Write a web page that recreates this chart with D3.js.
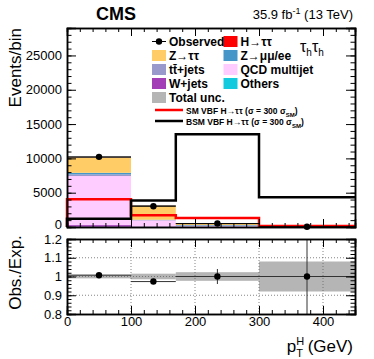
<!DOCTYPE html>
<html>
<head>
<meta charset="utf-8">
<script src="https://cdn.jsdelivr.net/npm/d3@7"></script>
<style>
  body { margin: 0; background: #fff; }
  svg text { font-family: "Liberation Sans", Arial, Helvetica, sans-serif; }
  .axis path { stroke: #000; stroke-width: 1.5; }
  .axis line { stroke: #000; stroke-width: 1; }
  .axis text { font-size: 13px; fill: #000; }
</style>
</head>
<body>
<svg id="chart" width="374" height="359"></svg>
<script>
// bins in pT^H (GeV)
const binEdges = [0, 100, 170, 300, 450]

// stacked backgrounds, bottom to top
const others = [30, 20, 20, 2]
const wjets = [250, 40, 30, 3]
const qcd = [7150, 900, 100, 5]
const ttbar = [250, 60, 80, 5]
const zmumu = [220, 40, 60, 3]
const ztautau = [2230, 2030, 200, 20]
const htautau = [20, 10, 10, 2]

const observed = [10220, 3020, 500, 40]
const smVbf = [4050, 1700, 1300, 150]
const bsmVbf = [1200, 3850, 13500, 4350]

// ratio panel
const ratio = [1.007, 0.973, 1.0, 1.0]
const ratioErr = [0.004, 0.006, 0.04, 0.3]
const totalUnc = [0.01, 0.015, 0.023, 0.08]

const upperTicks = [0, 5000, 10000, 15000, 20000, 25000]
const ratioTicks = [0.8, 0.9, 1, 1.1, 1.2]
const xTicks = [0, 100, 200, 300, 400]

const processes = [
  { name: 'Others', values: others, color: '#12cadd' },
  { name: 'W+jets', values: wjets, color: '#a33eb6' },
  { name: 'QCD multijet', values: qcd, color: '#ffccff' },
  { name: 'tt+jets', values: ttbar, color: '#9999cc' },
  { name: 'Z→μμ/ee', values: zmumu, color: '#4496c8' },
  { name: 'Z→ττ', values: ztautau, color: '#ffcc66' },
  { name: 'H→ττ', values: htautau, color: '#ff0000' }
]

const svg = d3.select('#chart')
const left = 67, right = 355
const upTop = 28, upBottom = 227
const loTop = 239, loBottom = 314

const x = d3.scaleLinear().domain([0, 450]).range([left, right])
const y = d3.scaleLinear().domain([0, 29000]).range([upBottom, upTop])
const yr = d3.scaleLinear().domain([0.8, 1.2]).range([loBottom, loTop])

const bins = d3.range(observed.length).map(i => ({ lo: binEdges[i], hi: binEdges[i + 1], i }))

// stacks
const stackData = bins.map(b => {
  const row = { i: b.i }
  processes.forEach(p => { row[p.name] = p.values[b.i] })
  return row
})
const series = d3.stack().keys(processes.map(p => p.name))(stackData)

const upper = svg.append('g')
series.forEach((s, k) => {
  upper.selectAll(null)
    .data(s)
    .enter().append('rect')
    .attr('x', d => x(binEdges[d.data.i]))
    .attr('width', d => x(binEdges[d.data.i + 1]) - x(binEdges[d.data.i]))
    .attr('y', d => y(d[1]))
    .attr('height', d => Math.max(0, y(d[0]) - y(d[1])))
    .attr('fill', processes[k].color)
})

// thin outline at stack top
const totals = bins.map(b => d3.sum(processes, p => p.values[b.i]))
upper.selectAll(null)
  .data(bins)
  .enter().append('line')
  .attr('x1', d => x(d.lo)).attr('x2', d => x(d.hi))
  .attr('y1', d => y(totals[d.i])).attr('y2', d => y(totals[d.i]))
  .attr('stroke', '#333').attr('stroke-width', 0.8)

// signal step lines
function stepPath (vals) {
  const pts = []
  bins.forEach(b => {
    pts.push([x(b.lo), y(vals[b.i])])
    pts.push([x(b.hi), y(vals[b.i])])
  })
  pts.unshift([x(0), y(0)])
  return d3.line()(pts)
}
upper.append('path').attr('d', stepPath(smVbf))
  .attr('fill', 'none').attr('stroke', '#ff0000').attr('stroke-width', 2.5)
upper.append('path').attr('d', stepPath(bsmVbf))
  .attr('fill', 'none').attr('stroke', '#000').attr('stroke-width', 2.5)

// observed points
const obs = upper.selectAll('.obs').data(bins).enter().append('g')
obs.append('line')
  .attr('x1', d => x(d.lo)).attr('x2', d => x(d.hi))
  .attr('y1', d => y(observed[d.i])).attr('y2', d => y(observed[d.i]))
  .attr('stroke', '#000').attr('stroke-width', 1)
obs.append('circle')
  .attr('cx', d => x((d.lo + d.hi) / 2))
  .attr('cy', d => y(observed[d.i]))
  .attr('r', 3.2).attr('fill', '#000')

// axes with ticks pointing into the frame
function inward (axisFn, scale, ticks, size, labels) {
  const a = axisFn(scale).tickValues(ticks).tickSize(-size)
  a.tickFormat(labels ? d3.format('') : '')
  return a
}
const upMinorY = d3.range(0, 29001, 1000)
const xMinor = d3.range(0, 451, 20)

svg.append('g').attr('class', 'axis').attr('transform', `translate(${left},0)`)
  .call(inward(d3.axisLeft, y, upperTicks, 9, true).tickPadding(5))
  .selectAll('text').filter(d => d === 0).attr('dy', '0.15em')
svg.append('g').attr('class', 'axis').attr('transform', `translate(${left},0)`)
  .call(inward(d3.axisLeft, y, upMinorY, 4.5, false))
svg.append('g').attr('class', 'axis').attr('transform', `translate(${right},0)`)
  .call(inward(d3.axisRight, y, upperTicks, 9, false))
svg.append('g').attr('class', 'axis').attr('transform', `translate(${right},0)`)
  .call(inward(d3.axisRight, y, upMinorY, 4.5, false))
svg.append('g').attr('class', 'axis').attr('transform', `translate(0,${upTop})`)
  .call(inward(d3.axisTop, x, xTicks, 8, false))
svg.append('g').attr('class', 'axis').attr('transform', `translate(0,${upTop})`)
  .call(inward(d3.axisTop, x, xMinor, 4, false))
svg.append('g').attr('class', 'axis').attr('transform', `translate(0,${upBottom})`)
  .call(inward(d3.axisBottom, x, xTicks, 8, false))
svg.append('g').attr('class', 'axis').attr('transform', `translate(0,${upBottom})`)
  .call(inward(d3.axisBottom, x, xMinor, 4, false))

// ratio panel
const lower = svg.append('g')
lower.selectAll(null).data(bins).enter().append('rect')
  .attr('x', d => x(d.lo))
  .attr('width', d => x(d.hi) - x(d.lo))
  .attr('y', d => yr(1 + totalUnc[d.i]))
  .attr('height', d => yr(1 - totalUnc[d.i]) - yr(1 + totalUnc[d.i]))
  .attr('fill', '#b5b5b5')

// dotted grid
lower.selectAll(null).data([0.9, 1, 1.1]).enter().append('line')
  .attr('x1', left).attr('x2', right)
  .attr('y1', d => yr(d)).attr('y2', d => yr(d))
  .attr('stroke', '#666').attr('stroke-width', 0.8).attr('stroke-dasharray', '1,2')
lower.selectAll(null).data([100, 200, 300, 400]).enter().append('line')
  .attr('x1', d => x(d)).attr('x2', d => x(d))
  .attr('y1', loTop).attr('y2', loBottom)
  .attr('stroke', '#666').attr('stroke-width', 0.8).attr('stroke-dasharray', '1,2')

const rp = lower.selectAll('.rp').data(bins).enter().append('g')
rp.append('line')
  .attr('x1', d => x(d.lo)).attr('x2', d => x(d.hi))
  .attr('y1', d => yr(ratio[d.i])).attr('y2', d => yr(ratio[d.i]))
  .attr('stroke', '#333').attr('stroke-width', 1)
rp.append('line')
  .attr('x1', d => x((d.lo + d.hi) / 2)).attr('x2', d => x((d.lo + d.hi) / 2))
  .attr('y1', d => Math.max(loTop, yr(ratio[d.i] + ratioErr[d.i])))
  .attr('y2', d => Math.min(loBottom, yr(ratio[d.i] - ratioErr[d.i])))
  .attr('stroke', '#333').attr('stroke-width', 1)
rp.append('circle')
  .attr('cx', d => x((d.lo + d.hi) / 2))
  .attr('cy', d => yr(ratio[d.i]))
  .attr('r', 3.2).attr('fill', '#000')

const rMinor = d3.range(0.8, 1.2001, 0.02)
svg.append('g').attr('class', 'axis').attr('transform', `translate(${left},0)`)
  .call(inward(d3.axisLeft, yr, ratioTicks, 9, true).tickPadding(5))
svg.append('g').attr('class', 'axis').attr('transform', `translate(${left},0)`)
  .call(inward(d3.axisLeft, yr, rMinor, 4.5, false))
svg.append('g').attr('class', 'axis').attr('transform', `translate(${right},0)`)
  .call(inward(d3.axisRight, yr, ratioTicks, 9, false))
svg.append('g').attr('class', 'axis').attr('transform', `translate(${right},0)`)
  .call(inward(d3.axisRight, yr, rMinor, 4.5, false))
svg.append('g').attr('class', 'axis').attr('transform', `translate(0,${loTop})`)
  .call(inward(d3.axisTop, x, xTicks, 8, false))
svg.append('g').attr('class', 'axis').attr('transform', `translate(0,${loTop})`)
  .call(inward(d3.axisTop, x, xMinor, 4, false))
svg.append('g').attr('class', 'axis').attr('transform', `translate(0,${loBottom})`)
  .call(inward(d3.axisBottom, x, xTicks, 8, true).tickPadding(3))
svg.append('g').attr('class', 'axis').attr('transform', `translate(0,${loBottom})`)
  .call(inward(d3.axisBottom, x, xMinor, 4, false))

// titles
svg.append('text').attr('x', 116).attr('y', 20).attr('text-anchor', 'middle')
  .attr('font-size', 18).attr('font-weight', 'bold').text('CMS')
const lumi = svg.append('text').attr('x', 353).attr('y', 19).attr('text-anchor', 'end')
  .attr('font-size', 13)
lumi.append('tspan').text('35.9 fb')
lumi.append('tspan').attr('font-size', 9).attr('dy', -5).text('-1')
lumi.append('tspan').attr('dy', 5).text(' (13 TeV)')

svg.append('text').attr('transform', `translate(21,${upTop}) rotate(-90)`)
  .attr('text-anchor', 'end').attr('font-size', 17).text('Events/bin')
svg.append('text').attr('transform', `translate(21,${(loTop + loBottom) / 2 - 4}) rotate(-90)`)
  .attr('text-anchor', 'middle').attr('font-size', 17).text('Obs./Exp.')

const xt = svg.append('text').attr('x', 353).attr('y', 352).attr('text-anchor', 'end')
  .attr('font-size', 17)
xt.append('tspan').text('p')
xt.append('tspan').attr('font-size', 11).attr('dy', -7).text('H')
xt.append('tspan').attr('font-size', 11).attr('dx', -8).attr('dy', 12).text('T')
xt.append('tspan').attr('dy', -5).text(' (GeV)')

const chan = svg.append('text').attr('x', 300).attr('y', 52).attr('font-size', 16)
chan.append('tspan').text('τ')
chan.append('tspan').attr('font-size', 10).attr('dy', 4).text('h')
chan.append('tspan').attr('dy', -4).text('τ')
chan.append('tspan').attr('font-size', 10).attr('dy', 4).text('h')

// legend
const legend = svg.append('g').attr('font-weight', 'bold').attr('font-size', 12)
const rowY = [41.5, 55.5, 69.5, 83.5, 97.5]
const legendItems = [
  { col: 0, row: 1, label: 'Z→ττ', color: '#ffcc66' },
  { col: 0, row: 2, label: 'tt̄+jets', color: '#9999cc' },
  { col: 0, row: 3, label: 'W+jets', color: '#a33eb6' },
  { col: 0, row: 4, label: 'Total unc.', color: '#b5b5b5' },
  { col: 1, row: 0, label: 'H→ττ', color: '#ff0000' },
  { col: 1, row: 1, label: 'Z→μμ/ee', color: '#4496c8' },
  { col: 1, row: 2, label: 'QCD multijet', color: '#ffccff' },
  { col: 1, row: 3, label: 'Others', color: '#12cadd' }
]
const colX = [152, 223.5]
legendItems.forEach(it => {
  legend.append('rect').attr('x', colX[it.col]).attr('y', rowY[it.row] - 5.5)
    .attr('width', 14).attr('height', 11).attr('fill', it.color)
  legend.append('text').attr('x', colX[it.col] + 17).attr('y', rowY[it.row] + 4.5).text(it.label)
})
legend.append('line').attr('x1', 152).attr('x2', 166).attr('y1', rowY[0]).attr('y2', rowY[0])
  .attr('stroke', '#000').attr('stroke-width', 1)
legend.append('circle').attr('cx', 159).attr('cy', rowY[0]).attr('r', 3.2)
legend.append('text').attr('x', 169).attr('y', rowY[0] + 4.5).text('Observed')

const lineRows = [
  { y: 110, color: '#ff0000', label: 'SM VBF H→ττ (σ = 300 ' },
  { y: 121, color: '#000', label: 'BSM VBF H→ττ (σ = 300 ' }
]
lineRows.forEach(r => {
  legend.append('line').attr('x1', 155).attr('x2', 183).attr('y1', r.y).attr('y2', r.y)
    .attr('stroke', r.color).attr('stroke-width', 2.5)
  const t = legend.append('text').attr('x', 186).attr('y', r.y + 3.5).attr('font-size', 8.5)
  t.append('tspan').text(r.label + ' σ')
  t.append('tspan').attr('font-size', 6).attr('dy', 3).text('SM')
  t.append('tspan').attr('dy', -3).text(')')
})
</script>
</body>
</html>
